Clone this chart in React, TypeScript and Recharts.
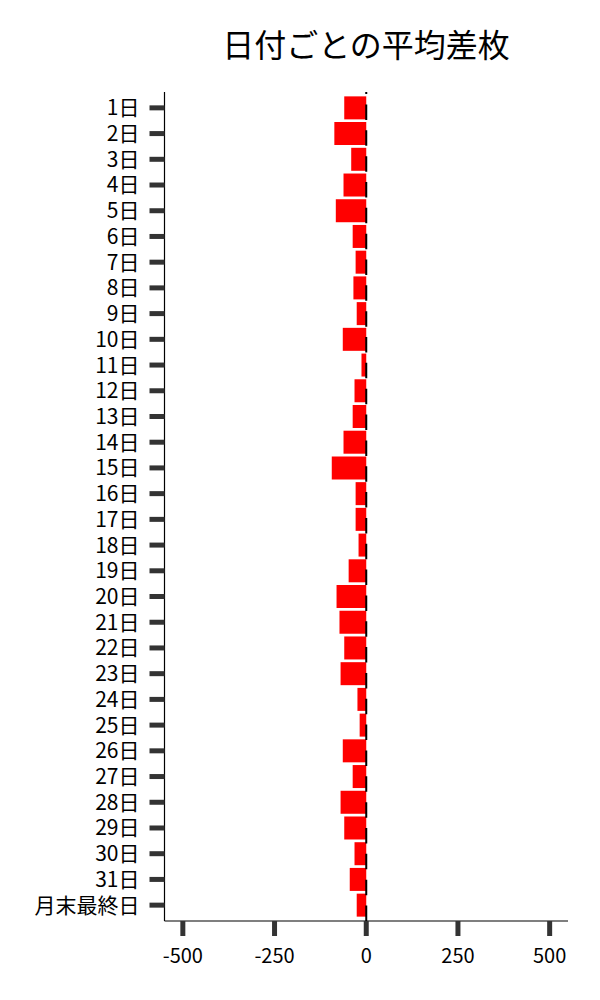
import React from 'react';
import { BarChart, Bar, XAxis, YAxis, ReferenceLine } from 'recharts';

const days = [
  '1日', '2日', '3日', '4日', '5日', '6日', '7日', '8日', '9日', '10日',
  '11日', '12日', '13日', '14日', '15日', '16日', '17日', '18日', '19日', '20日',
  '21日', '22日', '23日', '24日', '25日', '26日', '27日', '28日', '29日', '30日',
  '31日', '月末最終日',
];

const avgDiff = [
  -60, -87, -41, -62, -83, -37, -29, -35, -26, -64,
  -13, -32, -37, -62, -94, -29, -29, -21, -48, -81,
  -73, -60, -70, -24, -18, -64, -37, -70, -60, -32,
  -45, -26,
];

const xTicks = [-500, -250, 0, 250, 500];

const data = days.map((day, i) => ({ day, value: avgDiff[i] }));

const FONT = '"Noto Sans CJK JP", "Noto Sans", sans-serif';

// dashed zero line drawn bottom -> top so the dash pattern starts at the x axis
const ZeroLine = (props: any) => {
  const { x1, y1, x2, y2 } = props;
  const yBottom = Math.max(y1, y2);
  const yTop = Math.min(y1, y2);
  return (
    <line
      x1={x1}
      y1={yBottom}
      x2={x2}
      y2={yTop}
      stroke="#000"
      strokeWidth={2}
      strokeDasharray="15.5 10.34"
    />
  );
};

const App: React.FC = () => {
  return (
    <div style={{ position: 'relative', width: 600, height: 1000, fontFamily: FONT }}>
      <style>{`body { margin: 0; }`}</style>
      <div
        style={{
          position: 'absolute',
          top: 27,
          left: 164,
          width: 404,
          textAlign: 'center',
          fontSize: 32,
          lineHeight: '32px',
          color: '#000',
        }}
      >
        日付ごとの平均差枚
      </div>
      <BarChart
        width={600}
        height={1000}
        data={data}
        layout="vertical"
        margin={{ top: 92, right: 32, bottom: 29, left: 0 }}
        barCategoryGap="5.3%"
      >
        <XAxis
          type="number"
          domain={[-550, 550]}
          ticks={xTicks}
          allowDataOverflow
          height={50}
          axisLine={{ stroke: '#000', strokeWidth: 1.2 }}
          tickLine={{ stroke: '#333', strokeWidth: 5 }}
          tickSize={15}
          tickMargin={13}
          tick={{ fill: '#000', fontSize: 20, fontFamily: FONT }}
        />
        <YAxis
          type="category"
          dataKey="day"
          width={164.5}
          interval={0}
          padding={{ top: 3, bottom: 3 }}
          axisLine={{ stroke: '#000', strokeWidth: 1.2 }}
          tickLine={{ stroke: '#333', strokeWidth: 5 }}
          tickSize={15}
          tickMargin={10}
          tick={{ fill: '#000', fontSize: 21, fontFamily: FONT }}
        />
        <Bar dataKey="value" fill="#ff0000" isAnimationActive={false} />
        <ReferenceLine x={0} shape={ZeroLine} />
      </BarChart>
    </div>
  );
};

export default App;
